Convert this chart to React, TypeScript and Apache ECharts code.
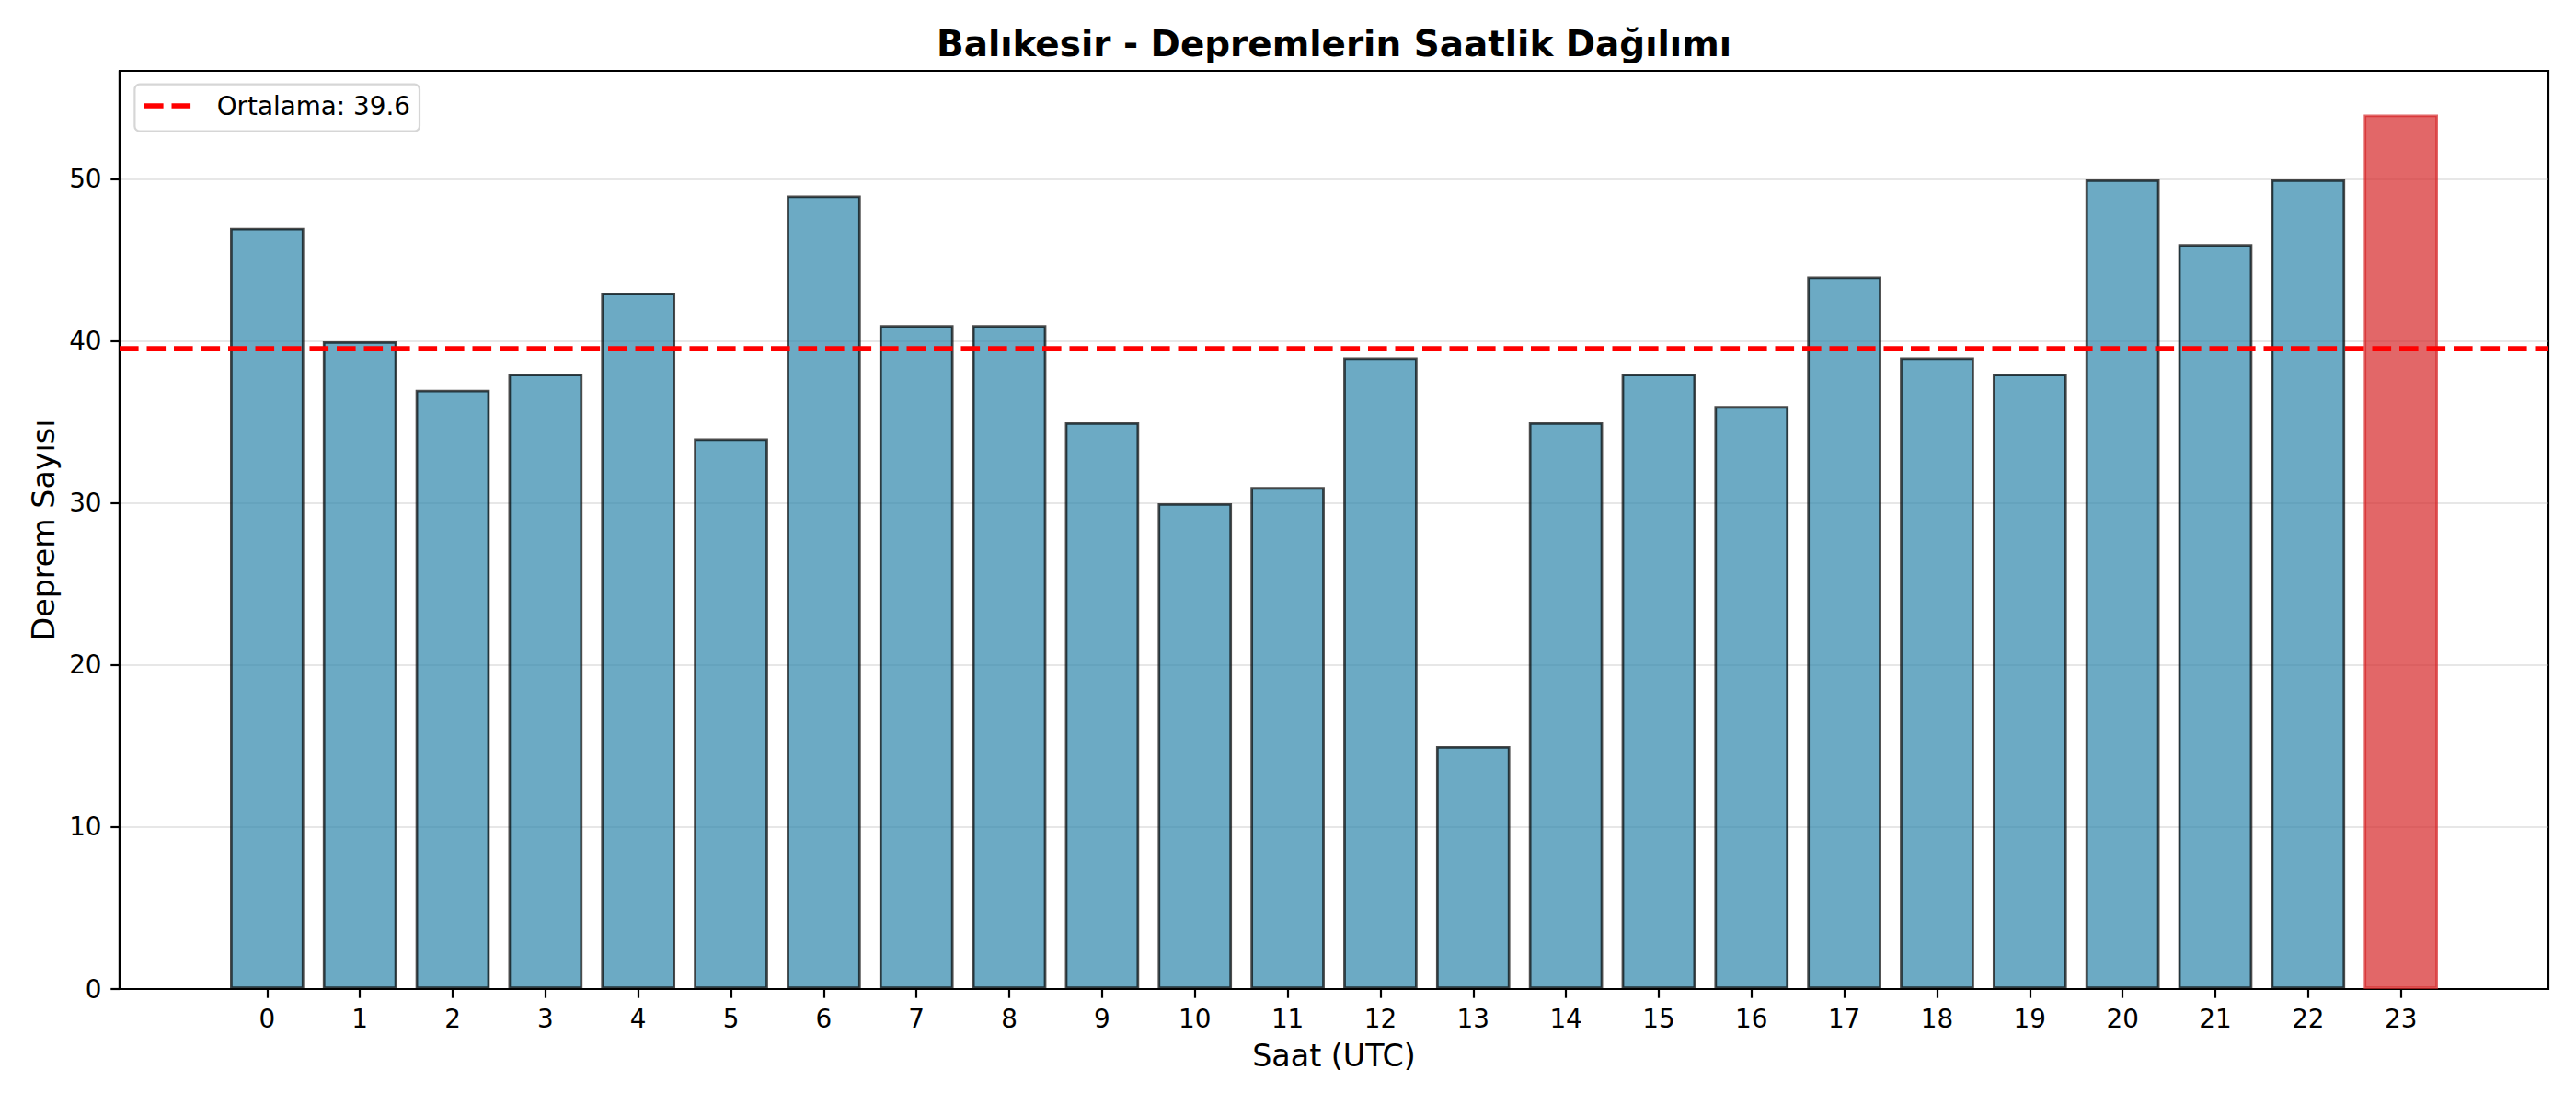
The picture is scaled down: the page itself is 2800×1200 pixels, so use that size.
import React, { useEffect, useRef } from "react";
import * as echarts from "echarts";

const HOURS = [0, 1, 2, 3, 4, 5, 6, 7, 8, 9, 10, 11, 12, 13, 14, 15, 16, 17, 18, 19, 20, 21, 22, 23];
const COUNTS = [47, 40, 37, 38, 43, 34, 49, 41, 41, 35, 30, 31, 39, 15, 35, 38, 36, 44, 39, 38, 50, 46, 50, 54];
const Y_TICKS = [0, 10, 20, 30, 40, 50];
const TITLE = "Balıkesir - Depremlerin Saatlik Dağılımı";
const X_NAME = "Saat (UTC)";
const Y_NAME = "Deprem Sayısı";
const LEGEND_PREFIX = "Ortalama: ";

const W = 2800;
const H = 1200;
const GRID_L = 130;
const GRID_R = 2770;
const GRID_T = 77;
const GRID_B = 1075;
const FONT = "DejaVu Sans";

export default function App() {
  const ref = useRef<HTMLDivElement>(null);

  useEffect(() => {
    document.body.style.margin = "0";
    document.body.style.overflow = "hidden";
    if (!ref.current) return;
    const chart = echarts.init(ref.current, undefined, { renderer: "svg" });

    const mean = COUNTS.reduce((a, b) => a + b, 0) / COUNTS.length;
    const maxVal = Math.max(...COUNTS);
    const maxIdx = COUNTS.indexOf(maxVal);
    const xMin = -0.4 - 0.05 * (HOURS[HOURS.length - 1] + 0.8);
    const xMax = HOURS[HOURS.length - 1] + 0.4 + 0.05 * (HOURS[HOURS.length - 1] + 0.8);
    const yMax = maxVal * 1.05;
    const barWidth = (0.8 * (GRID_R - GRID_L)) / (xMax - xMin);

    const blue = {
      color: "rgba(46,134,171,0.7)",
      borderColor: "rgba(0,0,0,0.7)",
      borderWidth: 2.78,
    };
    const red = {
      color: "rgba(214,39,40,0.7)",
      borderColor: "rgba(214,39,40,0.7)",
      borderWidth: 2.78,
    };

    const axisText = { fontSize: 27.8, color: "#000", fontFamily: FONT };

    const option = {
      animation: false,
      grid: {
        left: GRID_L,
        right: W - GRID_R,
        top: GRID_T,
        bottom: H - GRID_B,
        show: true,
        borderColor: "#000",
        borderWidth: 2.2,
        backgroundColor: "transparent",
      },
      xAxis: {
        type: "value",
        min: xMin,
        max: xMax,
        axisLine: { show: true, onZero: false, lineStyle: { color: "#000", width: 2.2 } },
        axisTick: { show: true, customValues: HOURS, length: 9.7, lineStyle: { color: "#000", width: 2.2 } },
        axisLabel: { customValues: HOURS, margin: 18, ...axisText },
        splitLine: { show: false },
      },
      yAxis: {
        type: "value",
        min: 0,
        max: yMax,
        interval: 10,
        axisLine: { show: true, onZero: false, lineStyle: { color: "#000", width: 2.2 } },
        axisTick: { show: true, customValues: Y_TICKS, length: 9.7, lineStyle: { color: "#000", width: 2.2 } },
        axisLabel: { customValues: Y_TICKS, margin: 19.5, ...axisText },
        splitLine: { show: true, lineStyle: { color: "rgba(176,176,176,0.3)", width: 2.2 } },
      },
      series: [
        {
          type: "bar",
          barWidth,
          data: COUNTS.map((v, i) => ({
            value: [HOURS[i], v],
            itemStyle: i === maxIdx ? red : blue,
          })),
          markLine: {
            silent: true,
            symbol: ["none", "none"],
            label: { show: false },
            lineStyle: { color: "#ff0000", type: [20.6, 8.9], width: 5.56 },
            data: [{ yAxis: mean }],
          },
        },
      ],
      graphic: [
        {
          type: "text",
          x: (GRID_L + GRID_R) / 2,
          y: 47.5,
          style: {
            text: TITLE,
            fontSize: 38.9,
            fontWeight: "bold",
            fontFamily: FONT,
            fill: "#000",
            align: "center",
            verticalAlign: "middle",
          },
        },
        {
          type: "text",
          x: (GRID_L + GRID_R) / 2,
          y: 1147.5,
          style: {
            text: X_NAME,
            fontSize: 33.3,
            fontFamily: FONT,
            fill: "#000",
            align: "center",
            verticalAlign: "middle",
          },
        },
        {
          type: "text",
          x: 47.8,
          y: (GRID_T + GRID_B) / 2,
          rotation: Math.PI / 2,
          style: {
            text: Y_NAME,
            fontSize: 33.3,
            fontFamily: FONT,
            fill: "#000",
            align: "center",
            verticalAlign: "middle",
          },
        },
        {
          type: "group",
          z: 100,
          children: [
            {
              type: "rect",
              shape: { x: 146.4, y: 91.7, width: 309.6, height: 51, r: 5.5 },
              style: { fill: "rgba(255,255,255,0.8)", stroke: "rgba(204,204,204,0.8)", lineWidth: 2.2 },
            },
            {
              type: "line",
              shape: { x1: 157, y1: 115, x2: 207.6, y2: 115 },
              style: { stroke: "#ff0000", lineWidth: 5.56, lineDash: [20.6, 8.9] },
            },
            {
              type: "text",
              x: 235.7,
              y: 115.4,
              style: {
                text: LEGEND_PREFIX + mean.toFixed(1),
                fontSize: 27.8,
                fontFamily: FONT,
                fill: "#000",
                align: "left",
                verticalAlign: "middle",
              },
            },
          ],
        },
      ],
    };

    chart.setOption(option as any);
    return () => chart.dispose();
  }, []);

  return (
    <div
      ref={ref}
      style={{ position: "absolute", left: 0, top: 0, width: W, height: H, background: "#fff" }}
    />
  );
}
